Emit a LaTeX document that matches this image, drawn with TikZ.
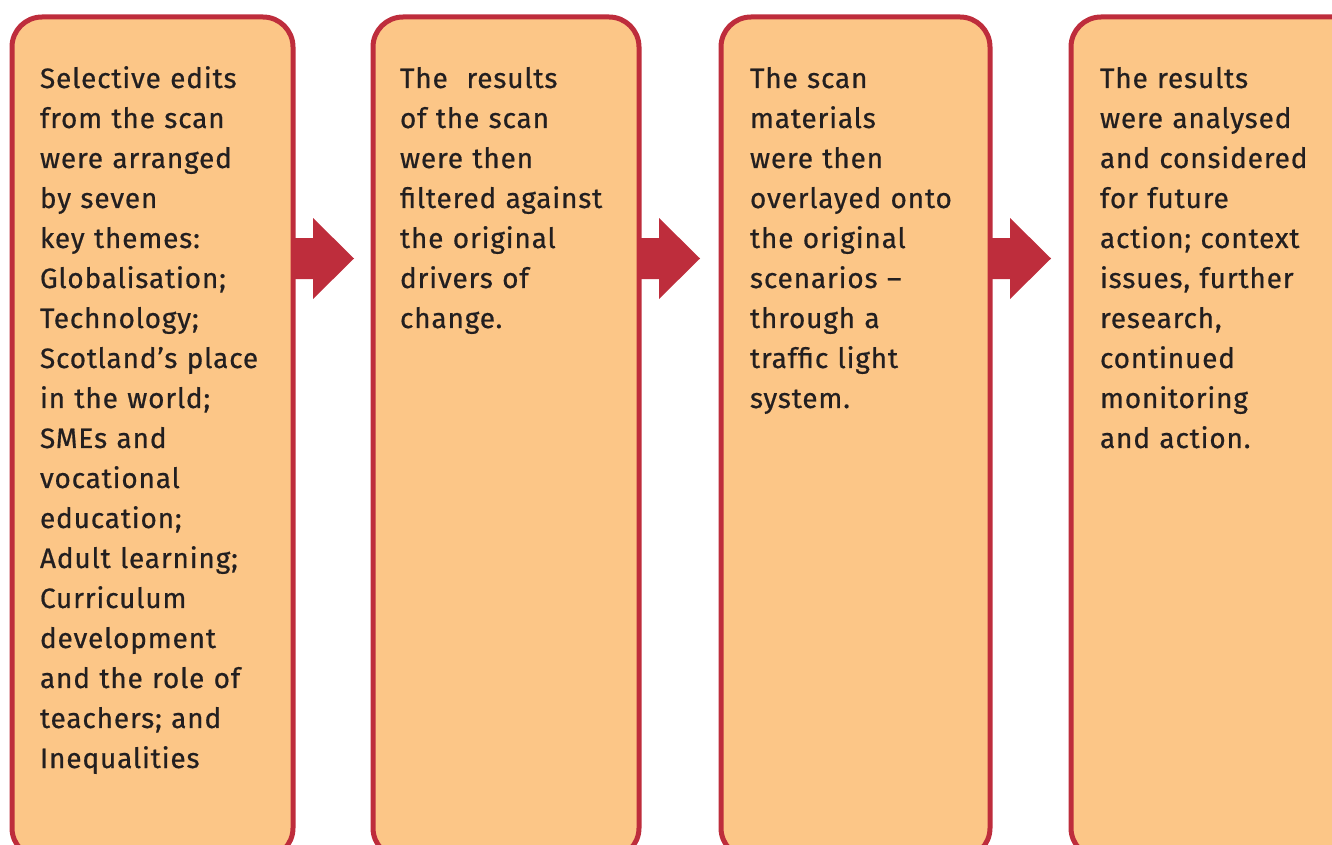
\documentclass[tikz,border=0pt]{standalone}
\usepackage{fontspec}
\setmainfont{Fira Sans}[FakeBold=0.6]
\usetikzlibrary{calc}
\definecolor{boxfill}{HTML}{FCC687}
\definecolor{boxline}{HTML}{BE2D3C}
\definecolor{txt}{HTML}{231F20}
\tikzset{
  stagebox/.style={draw=boxline, fill=boxfill, line width=5pt, rounded corners=30pt,
    rectangle, inner sep=0pt, outer sep=0pt, anchor=north west},
  stagetext/.style={anchor=base west, inner sep=0pt, outer sep=0pt, align=left, text=txt,
    font=\fontsize{28pt}{40pt}\selectfont\addfontfeatures{LetterSpace=3}, text width=290pt},
  flowarrow/.style={fill=boxline},
}
\begin{document}
\begin{tikzpicture}[x=1pt,y=-1pt]
\useasboundingbox (0,0) rectangle (1332,845);
\clip (0,0) rectangle (1332,845);
% boxes
\node[stagebox, minimum width=281pt, minimum height=841pt] (b1) at (12,17) {};
\node[stagebox, minimum width=266pt, minimum height=841pt] (b2) at (373,17) {};
\node[stagebox, minimum width=269pt, minimum height=841pt] (b3) at (721,17) {};
\node[stagebox, minimum width=300pt, minimum height=841pt] (b4) at (1071,17) {};
% arrows
\foreach \s in {b1,b2,b3}{
  \coordinate (r) at (\s.north east);
  \fill[flowarrow] ($(r)+(0,221)$) -- ++(20,0) -- ++(0,-20) -- ++(41,40.5)
     -- ++(-41,40.5) -- ++(0,-20) -- ++(-20,0) -- cycle;
}
% texts
\node[stagetext] (t1) at (40,88) {Selective edits\\from the scan\\were arranged\\by seven\\key themes:\\Globalisation;\\Technology;\\Scotland’s place\\in the world;\\SMEs and\\vocational\\education;\\Adult learning;\\Curriculum\\development\\and the role of\\teachers; and\\Inequalities};
\node[stagetext] (t2) at (400,88) {The\ \ results\\of the scan\\were then\\filtered against\\the original\\drivers of\\change.};
\node[stagetext] (t3) at (750,88) {The scan\\materials\\were then\\overlayed onto\\the original\\scenarios –\\through a\\traffic light\\system.};
\node[stagetext] (t4) at (1100,88) {The results\\were analysed\\and considered\\for future\\action; context\\issues, further\\research,\\continued\\monitoring\\and action.};
\end{tikzpicture}
\end{document}
